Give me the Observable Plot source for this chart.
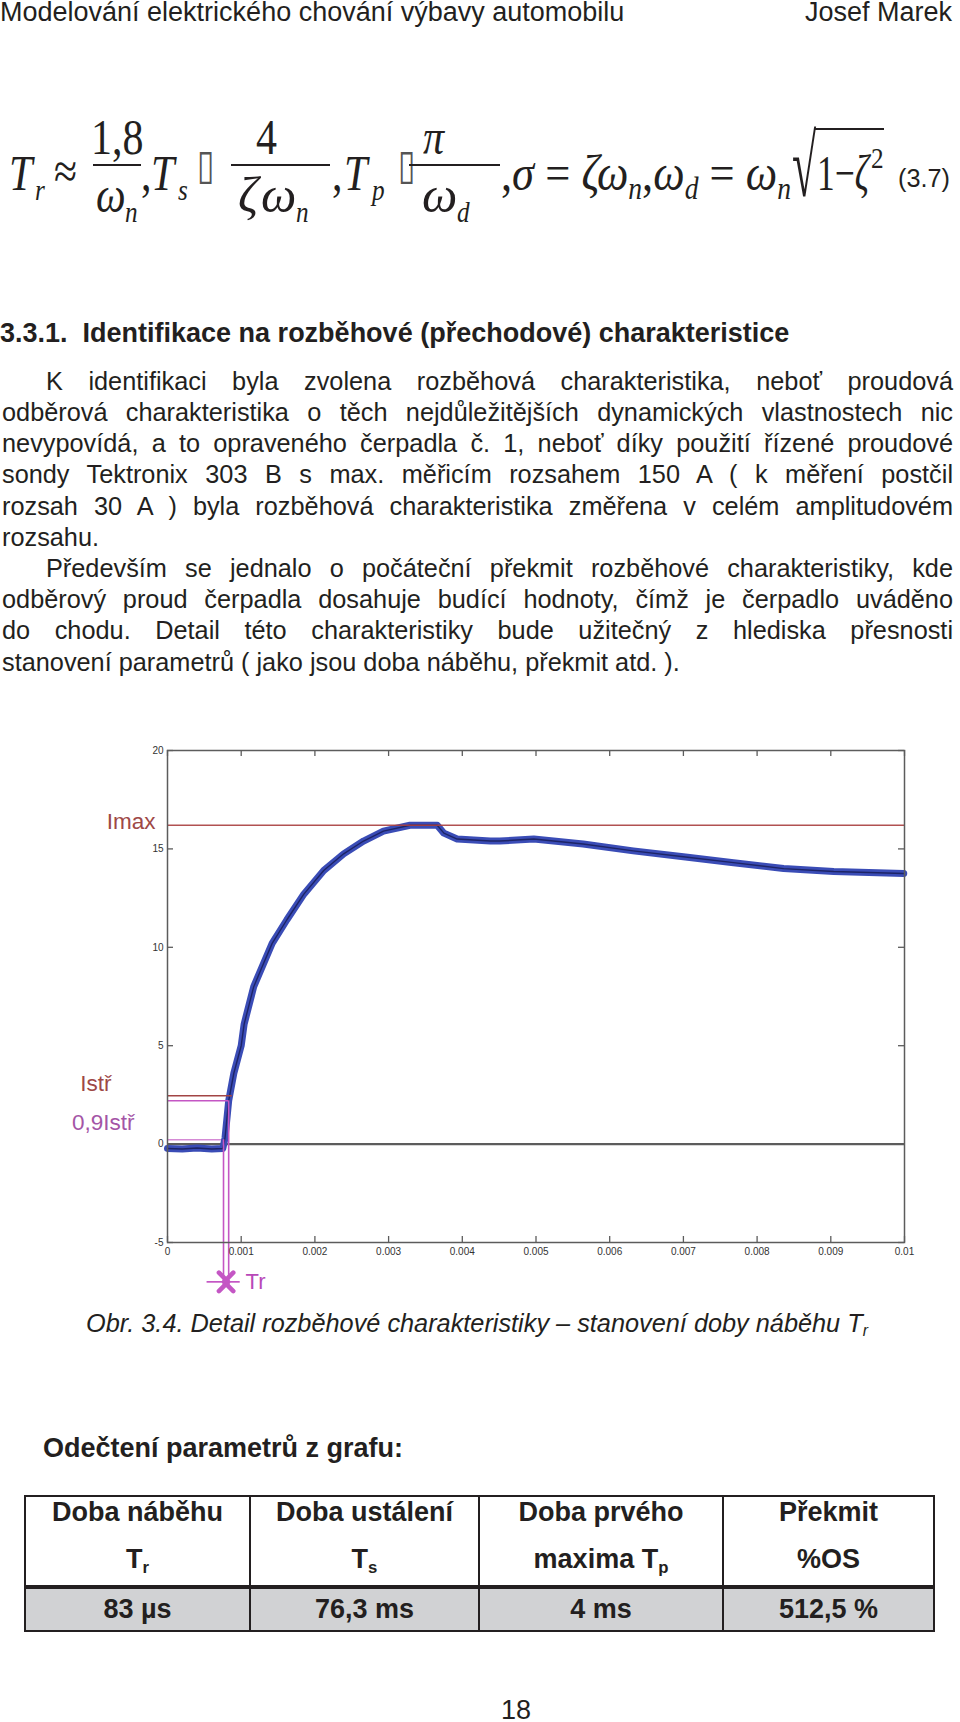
<!DOCTYPE html>
<html><head><meta charset="utf-8">
<script src="https://cdn.jsdelivr.net/npm/d3@7"></script>
<script src="https://cdn.jsdelivr.net/npm/@observablehq/plot@0.6"></script>
<style>
html,body{margin:0;padding:0;background:#fff}
body{width:960px;height:1722px;position:relative;overflow:hidden;font-family:"Liberation Sans",Arial,Helvetica,sans-serif;color:#231f20}
.a{position:absolute;white-space:nowrap;line-height:1;transform-origin:0 0}
.serif{font-family:"Liberation Serif","Times New Roman",serif}
.sub{position:relative;top:0.3em;font-size:0.62em}
.sup{position:relative;top:-0.55em;font-size:0.62em}
.bar{position:absolute;height:1.7px;background:#231f20}
.rule{position:absolute;background:#231f20}
#chart{position:absolute;left:0;top:735px}
</style></head><body>
<div id="chart"></div>
<script>
// ---------- chart data ----------
const time = [0, 0.0002, 0.0004, 0.0006, 0.00075, 0.00078, 0.00083, 0.0009, 0.001, 0.00104, 0.00117, 0.0013, 0.00142, 0.00162, 0.00185, 0.00212, 0.00239, 0.00266, 0.00293, 0.00329, 0.00366, 0.00375, 0.00393, 0.00438, 0.00451, 0.00497, 0.00564, 0.00632, 0.007, 0.00768, 0.00836, 0.00904, 0.00999];
const current = [-0.22, -0.25, -0.2, -0.25, -0.22, 0.3, 2.2, 3.6, 5.0, 6.1, 8.0, 9.15, 10.2, 11.4, 12.7, 13.9, 14.75, 15.4, 15.9, 16.2, 16.2, 15.8, 15.5, 15.4, 15.4, 15.5, 15.25, 14.9, 14.6, 14.3, 14.0, 13.85, 13.75];
const xTicks = [0, 0.001, 0.002, 0.003, 0.004, 0.005, 0.006, 0.007, 0.008, 0.009, 0.01];
const xTickLabels = ["0", "0.001", "0.002", "0.003", "0.004", "0.005", "0.006", "0.007", "0.008", "0.009", "0.01"];
const yTicks = [-5, 0, 5, 10, 15, 20];
const yTickLabels = ["-5", "0", "5", "10", "15", "20"];
// reference levels: name, level (A), end time (s)
const levelNames = ["Imax", "Istř", "0,9Istř", "0,1Istř"];
const levelValues = [16.2, 2.46, 2.2, 0.22];
const levelEnds = [0.01, 0.00088, 0.00083, 0.00076];
// rise-time cursors: time (s), top level (A), bottom level (A)
const cursorTimes = [0.00076, 0.00083];
const cursorTops = [0.22, 2.2];
const cursorBottom = -7.35;
// Tr arrows: start time, end time, level
const arrowFrom = [0.00053, 0.00098];
const arrowTo = [0.00076, 0.00083];
const arrowLevel = -7.0;
const trLabel = "Tr";
const trLabelTime = 0.00106;
// side labels: text, level
const sideLabels = ["Imax", "Istř", "0,9Istř"];
const sideLabelLevels = [16.4, 3.05, 1.1];

const trace = time.map((t, k) => ({t, i: current[k]}));
const xFmt = new Map(xTicks.map((v, k) => [v, xTickLabels[k]]));
const yFmt = new Map(yTicks.map((v, k) => [v, yTickLabels[k]]));
const lvl = k => [{from: 0, to: levelEnds[k], v: levelValues[k]}];
const cursors = cursorTimes.map((t, k) => ({t, top: cursorTops[k], bottom: cursorBottom}));
const arrows = arrowFrom.map((f, k) => ({f, to: arrowTo[k], y: arrowLevel}));

const W = 960, H = 565, ML = 167, MR = 56, MT = 15, MB = 58;
const PW = W - ML - MR, PH = H - MT - MB, TICK = 6;
const axisColor = "#5c5c5c";
const magenta = "#c456c4";

const chart = Plot.plot({
  width: W, height: H,
  marginLeft: ML, marginRight: MR, marginTop: MT, marginBottom: MB,
  x: {domain: [0, 0.01], axis: null},
  y: {domain: [-5, 20], axis: null},
  style: {fontFamily: "Liberation Sans, Arial, sans-serif", fontSize: "10px", color: "#333", background: "transparent", overflow: "visible"},
  marks: [
    Plot.ruleY([0], {stroke: axisColor, strokeWidth: 2.2}),
    Plot.ruleY(lvl(3), {y: "v", x1: "from", x2: "to", stroke: "#d58ad5", strokeWidth: 1.5}),
    Plot.line(trace, {x: "t", y: "i", stroke: "#3a4cb6", strokeWidth: 7, strokeLinejoin: "round"}),
    Plot.line(trace, {x: "t", y: "i", stroke: "#1d2466", strokeWidth: 1.4}),
    Plot.ruleY(lvl(0), {y: "v", x1: "from", x2: "to", stroke: "#a83e3e", strokeWidth: 1.6, strokeOpacity: 0.9}),
    Plot.ruleY(lvl(1), {y: "v", x1: "from", x2: "to", stroke: "#a24444", strokeWidth: 1.6}),
    Plot.ruleY(lvl(2), {y: "v", x1: "from", x2: "to", stroke: magenta, strokeWidth: 1.6}),
    Plot.ruleX(cursors, {x: "t", y1: "top", y2: "bottom", stroke: magenta, strokeWidth: 1.6}),
    Plot.link(arrows, {x1: "f", x2: "to", y1: "y", y2: "y", stroke: magenta, strokeWidth: 1.7, markerEnd: "arrow"}),
    Plot.text([trLabel], {x: trLabelTime, y: arrowLevel, text: d => d, textAnchor: "start", fill: "#b848b8", fontSize: 22}),
    Plot.frame({stroke: axisColor, strokeWidth: 1.5}),
    // inward ticks on all four sides
    Plot.ruleX(xTicks, {x: d => d, stroke: axisColor, strokeWidth: 1.3, insetTop: PH - TICK}),
    Plot.ruleX(xTicks, {x: d => d, stroke: axisColor, strokeWidth: 1.3, insetBottom: PH - TICK}),
    Plot.ruleY(yTicks, {y: d => d, stroke: axisColor, strokeWidth: 1.3, insetRight: PW - TICK}),
    Plot.ruleY(yTicks, {y: d => d, stroke: axisColor, strokeWidth: 1.3, insetLeft: PW - TICK}),
    Plot.axisX({anchor: "bottom", ticks: xTicks, tickSize: 0, tickPadding: 5, tickFormat: d => xFmt.get(d), label: null}),
    Plot.axisY({anchor: "left", ticks: yTicks, tickSize: 0, tickPadding: 4, tickFormat: d => yFmt.get(d), label: null}),
    Plot.text([sideLabels[0]], {x: 0, y: sideLabelLevels[0], text: d => d, textAnchor: "end", dx: -12, fill: "#9e4846", fontSize: 22.5}),
    Plot.text([sideLabels[1]], {x: 0, y: sideLabelLevels[1], text: d => d, textAnchor: "end", dx: -56, fill: "#9e4846", fontSize: 22.5}),
    Plot.text([sideLabels[2]], {x: 0, y: sideLabelLevels[2], text: d => d, textAnchor: "end", dx: -33, fill: "#a455a6", fontSize: 22.5})
  ]
});
// enlarge the Tr arrowheads
chart.querySelectorAll("marker").forEach(m => { m.setAttribute("markerWidth", 18); m.setAttribute("markerHeight", 18); });
document.getElementById("chart").appendChild(chart);

// ---------- page text ----------
const FS = 25.3, FL = 27;
const ASC = {sans: 0.8465, serif: 0.8375, dv: 0.88};
function put(html, x, base, o = {}) {
  const size = o.size || FS;
  const d = document.createElement("div");
  d.className = "a" + (o.serif ? " serif" : "");
  if (o.family) d.style.fontFamily = o.family;
  d.style.fontSize = size + "px";
  const asc = (o.serif ? ASC.serif : (o.family ? ASC.dv : ASC.sans)) * size;
  d.style.top = (base - asc) + "px";
  d.style.left = x + "px";
  if (o.weight) d.style.fontWeight = o.weight;
  if (o.italic) d.style.fontStyle = "italic";
  if (o.color) d.style.color = o.color;
  d.innerHTML = html;
  document.body.appendChild(d);
  const nat = d.getBoundingClientRect().width;
  let sx = o.sx || 1, sy = o.sy || 1;
  if (o.fit) sx = o.fit / nat;
  if (sx !== 1 || sy !== 1) d.style.transform = `scale(${sx},${sy})`;
  if (sy !== 1) d.style.top = (base - asc * sy) + "px";
  const w = nat * sx;
  if (o.anchor === "middle") d.style.left = (x - w / 2) + "px";
  if (o.anchor === "end") d.style.left = (x - w) + "px";
  if (o.justify) {
    const n = (d.textContent.match(/ /g) || []).length;
    if (n) d.style.wordSpacing = ((o.justify - nat) / n) + "px";
  }
  return d;
}
function bar(x1, x2, y) {
  const b = document.createElement("div");
  b.className = "bar";
  b.style.left = x1 + "px"; b.style.width = (x2 - x1) + "px"; b.style.top = (y - 0.85) + "px";
  document.body.appendChild(b);
}
function rect(x, y, w, h, bg) {
  const r = document.createElement("div");
  r.className = "rule";
  r.style.left = x + "px"; r.style.top = y + "px"; r.style.width = w + "px"; r.style.height = h + "px";
  if (bg) r.style.background = bg;
  document.body.appendChild(r);
}

// header
put("Modelování elektrického chování výbavy automobilu", 0, 22, {size: FL});
put("Josef Marek", 952, 22, {size: FL, anchor: "end"});

// equation (3.7)
const E = 50, ES = 30, SX = 0.84, MB0 = 190, NUM = 154, DEN = 212, SUBD = 222;
const eq = (h, x, b, o = {}) => put(h, x, b, Object.assign({serif: 1, size: E, sx: SX}, o));
const box = "DejaVu Sans, sans-serif";
eq("<i>T</i>", 9, MB0);
eq("<i>r</i>", 35, MB0 + 10, {size: ES});
eq("≈", 54, MB0 - 2);
eq("1,8", 117, NUM, {anchor: "middle"});
bar(93, 141, 165);
eq("<i>ω</i>", 96, DEN);
eq("<i>n</i>", 125, SUBD, {size: ES});
eq(",", 141, MB0);
eq("<i>T</i>", 151, MB0);
eq("<i>s</i>", 178, MB0 + 10, {size: ES});
put("▯", 197, 181, {family: box, size: 42, color: "#555", sx: 0.75});
eq("4", 266, NUM, {anchor: "middle"});
bar(231, 330, 165);
eq("<i>ζ</i>", 238, DEN, {sx: 1});
eq("<i>ω</i>", 261, DEN, {sx: 1});
eq("<i>n</i>", 296, SUBD, {size: ES});
eq(",", 332, MB0);
eq("<i>T</i>", 344, MB0);
eq("<i>p</i>", 372, MB0 + 10, {size: ES});
put("▯", 398, 181, {family: box, size: 42, color: "#555", sx: 0.75});
eq("<i>π</i>", 434, NUM, {anchor: "middle"});
bar(409, 500, 165);
eq("<i>ω</i>", 422, DEN, {sx: 1});
eq("<i>d</i>", 457, SUBD, {size: ES});
eq(",<i>σ</i> = <i>ζω</i><span class='sub'><i>n</i></span>,<i>ω</i><span class='sub'><i>d</i></span> = <i>ω</i><span class='sub'><i>n</i></span>", 501, MB0, {fit: 290});
eq("√", 792, 197, {size: 88, sx: 0.5});
bar(814, 884, 129);
eq("1−<i>ζ</i>", 817, MB0, {fit: 52});
eq("2", 871, MB0 - 22, {size: ES});
put("(3.7)", 898, 187);

// heading
put("3.3.1.&nbsp; Identifikace na rozběhové (přechodové) charakteristice", 0, 343, {weight: 700, size: FL});

// body
const bodyLines = [
  ["K identifikaci byla zvolena rozběhová charakteristika, neboť proudová", 46, true],
  ["odběrová charakteristika o těch nejdůležitějších dynamických vlastnostech nic", 2, true],
  ["nevypovídá, a to opraveného čerpadla č. 1, neboť díky použití řízené proudové", 2, true],
  ["sondy Tektronix 303 B s max. měřicím rozsahem 150 A ( k měření postčil", 2, true],
  ["rozsah 30 A ) byla rozběhová charakteristika změřena v celém amplitudovém", 2, true],
  ["rozsahu.", 2, false],
  ["Především se jednalo o počáteční překmit rozběhové charakteristiky, kde", 46, true],
  ["odběrový proud čerpadla dosahuje budící hodnoty, čímž je čerpadlo uváděno", 2, true],
  ["do chodu. Detail této charakteristiky bude užitečný z hlediska přesnosti", 2, true],
  ["stanovení parametrů ( jako jsou doba náběhu, překmit atd. ).", 2, false]
];
bodyLines.forEach(([t, x, j], k) => put(t, x, 390 + 31.2 * k, j ? {justify: 953 - x, sy: 1.04} : {sy: 1.04}));

// caption
put("Obr. 3.4. Detail rozběhové charakteristiky – stanovení doby náběhu <i>T</i><span class='sub'><i>r</i></span>", 86, 1332, {italic: 1});

// table
put("Odečtení parametrů z grafu:", 43, 1458, {weight: 700, size: FL});
const tL = 25, tR = 934, tT = 1495, tB = 1632, cols = [25, 250, 479, 723, 934];
rect(tL, 1587, tR - tL, tB - 1587, "#d1d2d4");
rect(tL, tT, tR - tL, 2.2);
rect(tL, tB - 2.2, tR - tL, 2.2);
rect(tL, 1585, tR - tL, 4);
cols.forEach(c => rect(c - 1, tT, 2.2, tB - tT));
const head1 = ["Doba náběhu", "Doba ustálení", "Doba prvého", "Překmit"];
const head2 = ["T<span class='sub'>r</span>", "T<span class='sub'>s</span>", "maxima T<span class='sub'>p</span>", "%OS"];
const vals = ["83 µs", "76,3 ms", "4 ms", "512,5 %"];
for (let k = 0; k < 4; k++) {
  const cx = (cols[k] + cols[k + 1]) / 2;
  put(head1[k], cx, 1522, {weight: 700, anchor: "middle", size: FL});
  put(head2[k], cx, 1569, {weight: 700, anchor: "middle", size: FL});
  put(vals[k], cx, 1619, {weight: 700, anchor: "middle", size: FL});
}
put("18", 516, 1720, {anchor: "middle", size: FL});
</script>
</body></html>
